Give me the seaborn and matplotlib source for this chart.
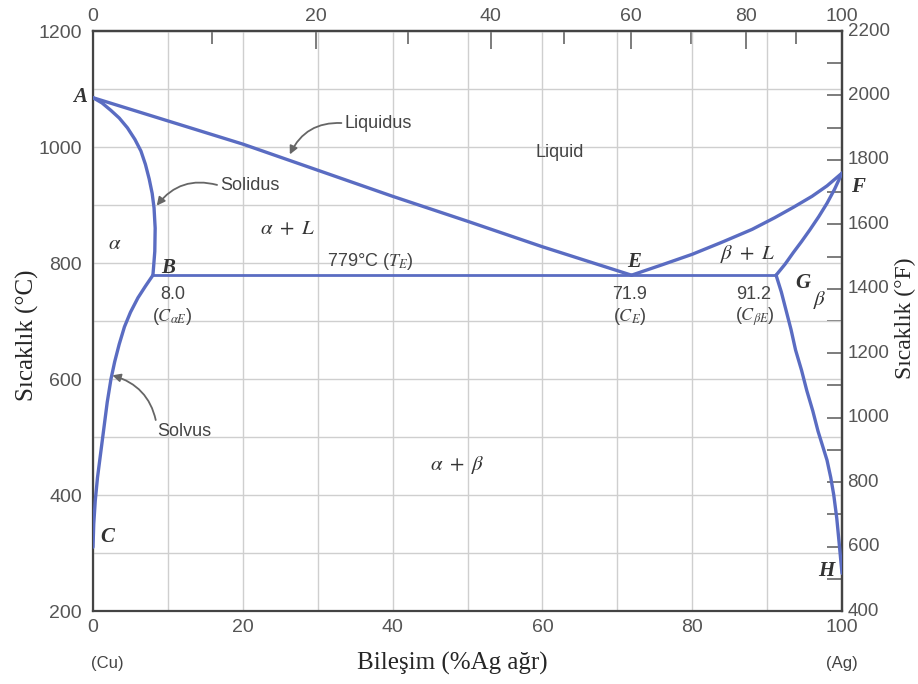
import numpy as np
import pandas as pd
import matplotlib
matplotlib.use("Agg")
import matplotlib.pyplot as plt
import seaborn as sns

# ---- data ----
liq_a_x = [0.0, 10.0, 20.0, 30.0, 40.0, 50.0, 60.0, 71.9]
liq_a_t = [1085, 1045, 1005, 960, 915, 872, 828, 779]

sol_a_x = [0.0, 1.2, 2.4, 3.5, 4.6, 5.6, 6.4, 7.0, 7.5, 7.9, 8.15, 8.3, 8.25, 8.1, 8.0]
sol_a_t = [1085, 1076, 1063, 1050, 1033, 1013, 993, 970, 945, 920, 895, 860, 820, 795, 779]

solv_a_x = [8.0, 7.0, 6.0, 5.0, 4.2, 3.5, 2.9, 2.4, 1.9, 1.4, 1.0, 0.6, 0.3, 0.1, 0.0]
solv_a_t = [779, 760, 740, 715, 690, 660, 630, 600, 560, 510, 470, 430, 390, 350, 310]

liq_b_x = [71.9, 76.0, 80.0, 84.0, 88.0, 91.0, 93.5, 96.0, 98.0, 100.0]
liq_b_t = [779, 797, 815, 836, 858, 878, 896, 915, 933, 955]

sol_b_x = [91.2, 92.4, 93.5, 94.6, 95.7, 96.9, 98.0, 99.0, 100.0]
sol_b_t = [779, 798, 818, 837, 857, 880, 903, 927, 955]

solv_b_x = [91.2, 91.9, 92.5, 93.2, 93.8, 94.6, 95.3, 96.1, 96.8, 97.4, 98.0, 98.5, 98.9, 99.3, 99.6, 100.0]
solv_b_t = [779, 750, 720, 685, 650, 615, 580, 545, 510, 485, 460, 430, 400, 360, 320, 265]

eut_x = [8.0, 91.2]
eut_t = [779, 779]

MW_AG, MW_CU = 107.87, 63.55
at_major = [0, 20, 40, 60, 80, 100]
at_minor = [10, 30, 50, 70, 90]
f_major = list(range(400, 2201, 200))
f_minor = list(range(500, 2201, 200))

def wt2at(w):
    w = np.clip(np.asarray(w, dtype=float), 1e-9, 100 - 1e-9)
    return 100 * (w / MW_AG) / (w / MW_AG + (100 - w) / MW_CU)

def at2wt(a):
    a = np.clip(np.asarray(a, dtype=float), 1e-9, 100 - 1e-9)
    return 100 * (a * MW_AG) / (a * MW_AG + (100 - a) * MW_CU)

# right scale as printed in the figure: 400..2200 °F over 200..1200 °C
def c2f(c):
    return np.asarray(c) * 1.8 + 40

def f2c(f):
    return (np.asarray(f) - 40) / 1.8

# ---- figure ----
sns.set_style("white")
plt.rcParams["font.family"] = ["Liberation Sans", "DejaVu Sans"]
plt.rcParams["mathtext.fontset"] = "stix"

fig = plt.figure(figsize=(9.18, 6.84), dpi=100)
ax = fig.add_axes([93 / 918, 1 - 611 / 684, (842 - 93) / 918, (611 - 31) / 684])

LINE = "#5a6cc2"
curves = [(liq_a_x, liq_a_t), (sol_a_x, sol_a_t), (solv_a_x, solv_a_t),
          (liq_b_x, liq_b_t), (sol_b_x, sol_b_t), (solv_b_x, solv_b_t)]
for cx, ct in curves:
    sns.lineplot(x=cx, y=ct, sort=False, estimator=None, color=LINE, lw=2.4, ax=ax,
                 solid_capstyle="round", solid_joinstyle="round", zorder=3)
sns.lineplot(x=eut_x, y=eut_t, sort=False, estimator=None, color=LINE, lw=2.0, ax=ax, zorder=3)

ax.set_xlim(0, 100)
ax.set_ylim(200, 1200)
ax.set_xticks([0, 20, 40, 60, 80, 100])
ax.set_xticks(np.arange(0, 101, 10), minor=True)
ax.set_yticks(np.arange(200, 1201, 200))
ax.set_yticks(np.arange(200, 1201, 100), minor=True)
ax.grid(True, which="both", color="#cfcfcf", lw=1.0, zorder=0)
ax.set_axisbelow(True)

TICKC = "#555555"
ax.tick_params(axis="both", which="both", direction="in", color="#666666",
               labelcolor=TICKC, labelsize=14, length=11, width=1.2)
ax.tick_params(axis="x", pad=6)
ax.tick_params(axis="y", pad=8)
for s in ax.spines.values():
    s.set_color("#444444")
    s.set_linewidth(1.6)

# top axis: atomic percent
top = ax.secondary_xaxis("top", functions=(wt2at, at2wt))
top.set_xticks(at_major)
top.set_xticks(at_minor, minor=True)
top.tick_params(axis="x", which="major", direction="in", length=13, width=1.2,
                color="#666666", labelcolor=TICKC, labelsize=14, pad=4)
top.tick_params(axis="x", which="minor", direction="in", length=9, width=1.2, color="#666666")
top.spines["top"].set_color("#444444")
top.spines["top"].set_linewidth(1.6)

# right axis: Fahrenheit
right = ax.secondary_yaxis("right", functions=(c2f, f2c))
right.set_yticks(f_major)
right.set_yticks(f_minor, minor=True)
right.tick_params(axis="y", which="both", direction="in", length=11, width=1.2,
                  color="#666666", labelcolor=TICKC, labelsize=13.5, pad=4)
right.spines["right"].set_color("#444444")
right.spines["right"].set_linewidth(1.6)
for lbl in right.get_yticklabels():
    lbl.set_va("center")

ax.set_xlabel("")
ax.set_ylabel("")

SERIF = ["Liberation Serif", "DejaVu Serif"]
fig.text(452 / 918, 1 - 663 / 684, "Bileşim (%Ag ağr)", family=SERIF, fontsize=18,
         ha="center", va="center")
fig.text(27 / 918, 1 - 335 / 684, "Sıcaklık (°C)", family=SERIF, fontsize=18,
         ha="center", va="center", rotation=90)
fig.text(905 / 918, 1 - 318 / 684, "Sıcaklık (°F)", family=SERIF, fontsize=17,
         ha="center", va="center", rotation=90)

TXT = "#333333"
# point letters
pt_style = dict(fontsize=15, color=TXT, ha="center", va="center", style="italic",
                family=SERIF, fontweight="bold")
for lab, x, y in [("A", -1.8, 1086), ("C", 1.9, 328), ("B", 10.0, 791), ("E", 72.2, 802),
                  ("F", 102.1, 931), ("G", 94.8, 766), ("H", 97.9, 269)]:
    ax.text(x, y, lab, clip_on=False, **pt_style)

m_style = dict(fontsize=15, color=TXT, ha="center", va="center")
ax.text(2.9, 834, r"$\alpha$", **m_style)
ax.text(26, 860, r"$\alpha\ +\ L$", **m_style)
ax.text(97.1, 736, r"$\beta$", **m_style)
ax.text(87.4, 816, r"$\beta\ +\ L$", **m_style)
ax.text(48.7, 452, r"$\alpha\ +\ \beta$", **m_style)

s_style = dict(fontsize=13, color="#444444", ha="center", va="center")
ax.text(37, 802, r"779°C ($T_E$)", **s_style)
ax.text(62.3, 991, "Liquid", **s_style)
ax.text(10.6, 745, "8.0", **s_style)
ax.text(10.6, 708, r"($C_{\alpha E}$)", **s_style)
ax.text(71.7, 745, "71.9", **s_style)
ax.text(71.7, 708, r"($C_E$)", **s_style)
ax.text(88.2, 745, "91.2", **s_style)
ax.text(88.4, 708, r"($C_{\beta E}$)", **s_style)

ax.text(1.9, 110, "(Cu)", fontsize=12, color="#444444", ha="center", va="center", clip_on=False)
ax.text(100, 110, "(Ag)", fontsize=12, color="#444444", ha="center", va="center", clip_on=False)

arr = dict(arrowstyle="-|>", color="#666666", lw=1.3, mutation_scale=12, shrinkA=0, shrinkB=1)
ax.annotate("Liquidus", xy=(26.2, 985), xytext=(33.6, 1041), fontsize=13, color="#444444",
            ha="left", va="center",
            arrowprops=dict(connectionstyle="arc3,rad=0.35", relpos=(0, 0.5), **arr))
ax.annotate("Solidus", xy=(8.4, 897), xytext=(17.0, 933), fontsize=13, color="#444444",
            ha="left", va="center",
            arrowprops=dict(connectionstyle="arc3,rad=0.35", relpos=(0, 0.5), **arr))
ax.annotate("Solvus", xy=(2.4, 607), xytext=(8.6, 509), fontsize=13, color="#444444",
            ha="left", va="center",
            arrowprops=dict(connectionstyle="arc3,rad=0.35", relpos=(0, 0.5), **arr))

fig.savefig("out.png", dpi=100)
